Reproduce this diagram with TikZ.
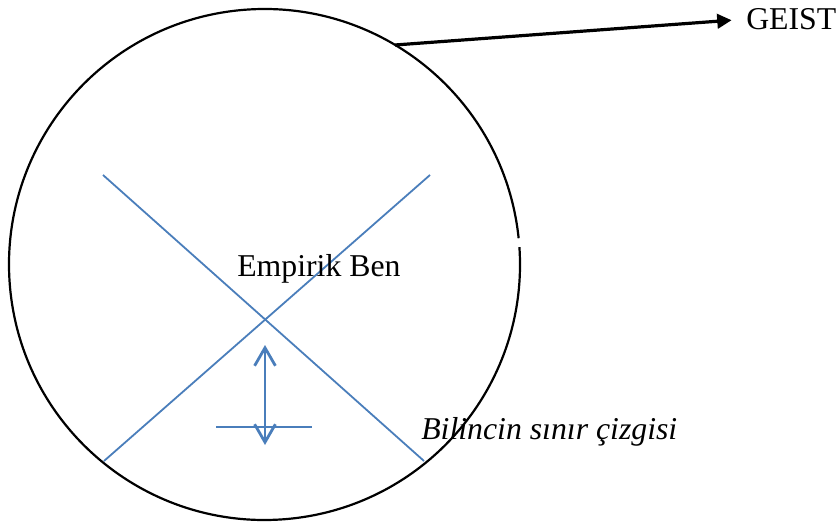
\documentclass[tikz,border=0pt]{standalone}
\usepackage{fontspec}
\setmainfont{Liberation Serif}
\usetikzlibrary{arrows.meta,positioning,calc}
\definecolor{egoblue}{HTML}{4A7EBB}

\begin{document}
\begin{tikzpicture}[x=.25mm,y=-.25mm,
 every node/.style={font=\fontsize{22.6}{27}\selectfont,inner sep=0},
 rim/.style={line width=.55mm,draw=black},
 xline/.style={line width=.45mm,draw=egoblue},
 bar/.style={line width=.6mm,draw=egoblue},
 updown/.style={{Straight Barb[length=4.5mm,width=5.2mm]}-{Straight Barb[length=4.5mm,width=5.2mm]},line width=.7mm,draw=egoblue},
 toward/.style={-{Triangle[length=3.6mm,width=3.6mm]},line width=.8mm,draw=black}]

\useasboundingbox (0,0) rectangle (836,523);
\coordinate (c) at (264.5,264.5);
\draw[rim] (c) ++(-3.9:255.5) arc[start angle=-3.9,end angle=354.1,radius=255.5];

\coordinate (rimpt) at (395,45);
\node[anchor=base west] (geist) at (746,29.5) {GEIST};
\draw[toward,shorten >=3.6mm] (rimpt)--(geist.west);

\coordinate (ul) at (103,175);
\coordinate (lr) at (424,461);
\coordinate (ur) at (430,175);
\coordinate (ll) at (104,461);
\draw[xline] (ul)--(lr);
\draw[xline] (ur)--(ll);

\coordinate (up) at (265,345);
\coordinate (down) at (265,445);
\draw[updown] (down)--(up);
\coordinate (barl) at (216,427);
\coordinate (barr) at (312,427);
\draw[bar] (barl)--(barr);

\node[anchor=base west] (ego) at (237,276) {Empirik Ben};
\node[anchor=base west] (limit) at (421,439) {\itshape Bilincin sınır çizgisi};
\end{tikzpicture}
\end{document}
